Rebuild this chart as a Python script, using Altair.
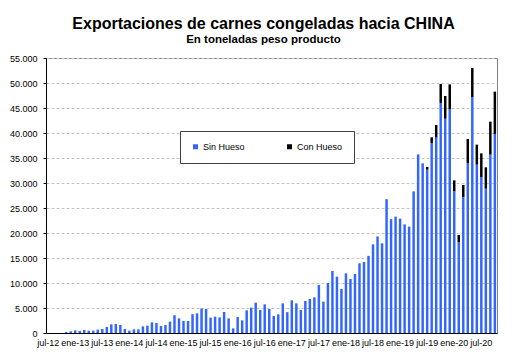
import altair as alt
import pandas as pd

abrev = ["ene", "feb", "mar", "abr", "may", "jun", "jul", "ago", "sep", "oct", "nov", "dic"]
meses = []
for anio in range(12, 21):
    for i, m in enumerate(abrev):
        if (anio == 12 and i < 6) or (anio == 20 and i > 9):
            continue
        meses.append(f"{m}-{anio}")

# jul-12 .. oct-20
sin_hueso = [
    0, 0, 0, 0, 200, 330,
    530, 400, 600, 470, 470, 670, 800, 1200, 1730, 1800, 1600, 800,
    470, 730, 730, 1330, 1470, 2130, 2000, 1400, 1600, 2270, 3530, 2930,
    2400, 2400, 3770, 3930, 4900, 4800, 3070, 3270, 3130, 4200, 2930, 930,
    3200, 2530, 4530, 5070, 6070, 4600, 5730, 4800, 3400, 3730, 5930, 4170,
    6530, 5930, 4600, 6400, 6800, 7130, 9600, 6270, 10000, 12400, 11270, 8800,
    11930, 10800, 11800, 13930, 14200, 15430, 17730, 19300, 17930, 26770, 22770, 23270,
    22870, 21730, 21270, 28330, 35730, 33930, 32670, 38000, 39070, 46000, 42870, 44730,
    28330, 18130, 27200, 34000, 47200, 33670, 31200, 28870, 35670, 39800,
]
con_hueso = [0] * 84 + [
    530, 1130, 2530, 3800, 4530, 5000,
    2200, 1470, 2400, 4800, 5800, 4000, 4730, 4270, 6600, 8470,
]

etiquetas_x = [m for m in meses if m.startswith(("ene", "jul"))]
valores_y = list(range(0, 55001, 5000))

filas = []
for mes, s, c in zip(meses, sin_hueso, con_hueso):
    filas.append({"mes": mes, "tipo": "Sin Hueso", "orden": 0, "valor": s})
    filas.append({"mes": mes, "tipo": "Con Hueso", "orden": 1, "valor": c})
df = pd.DataFrame(filas)

fuente = "Liberation Sans"

chart = alt.Chart(df).mark_bar().encode(
    x=alt.X(
        "mes:O",
        sort=meses,
        scale=alt.Scale(paddingInner=0.45, paddingOuter=0.2),
        axis=alt.Axis(
            values=etiquetas_x, title=None, labelAngle=0, ticks=False,
            domainColor="black", labelFontSize=9, labelFont=fuente,
            labelColor="black", labelPadding=5, labelOverlap=False, grid=False,
        ),
    ),
    y=alt.Y(
        "valor:Q",
        stack="zero",
        scale=alt.Scale(domain=[0, 55000], nice=False),
        axis=alt.Axis(
            values=valores_y, title=None,
            labelExpr="replace(format(datum.value, ','), ',', '.')",
            grid=True, gridDash=[3, 2], gridColor="#c4c4c4",
            tickSize=3, tickColor="black", domainColor="black",
            labelPadding=6, labelFontSize=9, labelFont=fuente, labelColor="black",
        ),
    ),
    color=alt.Color(
        "tipo:N",
        scale=alt.Scale(domain=["Sin Hueso", "Con Hueso"], range=["#3366ff", "#000000"]),
        legend=alt.Legend(
            title=None, orient="none", legendX=134, legendY=73,
            direction="horizontal", fillColor="white", strokeColor="#404040",
            padding=11, symbolType="square", symbolSize=25, symbolStrokeWidth=0,
            labelFontSize=9, labelFont=fuente, labelColor="black",
            columnPadding=40, labelOffset=3,
        ),
    ),
    order=alt.Order("orden:Q", sort="ascending"),
).properties(
    width=451,
    height=275,
    padding={"left": 1, "top": 7, "right": 5, "bottom": 5},
    title=alt.TitleParams(
        text="Exportaciones de carnes congeladas hacia CHINA",
        subtitle="En toneladas peso producto",
        font=fuente, fontSize=16, fontWeight="bold", color="black",
        subtitleFont=fuente, subtitleFontSize=11.5, subtitleFontWeight="bold",
        subtitleColor="black", anchor="middle", offset=9, subtitlePadding=2, dx=-8,
    ),
).configure_view(stroke="#808080")

chart.save("out.html", embed_options={"renderer": "svg", "actions": False})
